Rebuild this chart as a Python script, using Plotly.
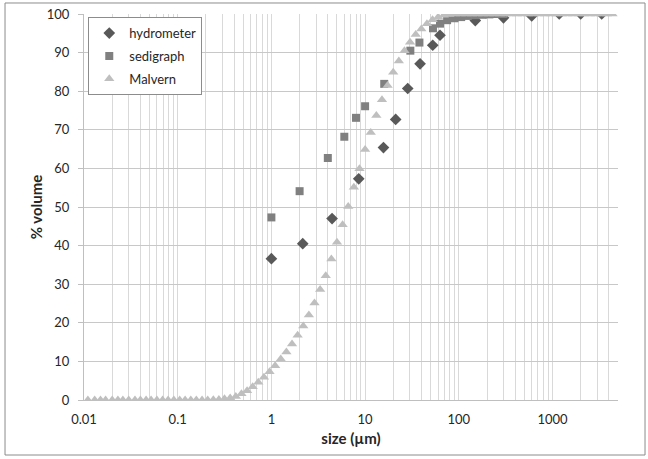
import plotly.graph_objects as go

# ---------------- data ----------------
hydro_x = [1, 2.16, 4.44, 8.55, 15.7, 21.2, 28.5, 38.6, 52.7, 63, 150, 300, 600, 1180, 2000, 3350]
hydro_y = [36.6, 40.5, 47.0, 57.3, 65.4, 72.7, 80.7, 87.1, 91.9, 94.5, 98.3, 99.0, 99.5, 100, 100, 100]

sed_x = [1, 2, 4, 6, 8, 10, 16, 30.4, 38, 53, 63, 75, 90, 106, 125, 150, 180, 212, 250, 300]
sed_y = [47.3, 54.1, 62.7, 68.2, 73.1, 76.1, 81.9, 90.5, 92.6, 96.3, 97.5, 98.4, 98.9, 99.2,
         99.5, 99.7, 99.8, 99.9, 100, 100]

malvern_x = [0.011, 0.013, 0.015, 0.017, 0.020, 0.023, 0.026, 0.030, 0.035, 0.040,
             0.046, 0.052, 0.060, 0.069, 0.079, 0.091, 0.105, 0.120, 0.138, 0.158,
             0.182, 0.209, 0.240, 0.275, 0.316, 0.363, 0.417, 0.479, 0.550, 0.631,
             0.724, 0.832, 0.955, 1.096, 1.259, 1.445, 1.660, 1.905, 2.188, 2.512,
             2.884, 3.311, 3.802, 4.365, 5.012, 5.754, 6.607, 7.586, 8.710, 10.000,
             11.482, 13.183, 15.136, 17.378, 19.953, 22.909, 26.303, 30.200, 34.674, 39.811,
             45.709, 52.481, 60.256, 69.183, 79.433, 91.201, 104.713, 120.226, 138.038, 158.489,
             181.970, 208.930, 239.883, 275.423, 316.228, 363.078, 416.869, 478.630, 549.541, 630.957,
             724.436, 831.764, 954.993, 1096.478, 1258.925, 1445.440, 1659.587, 1905.461, 2187.762, 2511.886,
             2884.032, 3311.311, 3801.894, 4365.158]
malvern_y = [0, 0, 0, 0, 0, 0, 0, 0, 0, 0,
             0, 0, 0, 0, 0, 0, 0, 0, 0, 0,
             0, 0, 0.05, 0.1, 0.3, 0.5, 0.9, 1.6, 2.4, 3.45,
             4.6, 5.9, 7.35, 8.9, 10.6, 12.45, 14.5, 16.8, 19.2, 22.0,
             25.1, 28.6, 32.2, 36.5, 40.9, 45.4, 50.1, 55.1, 59.9, 64.9,
             69.3, 73.7, 77.8, 81.5, 84.9, 87.8, 90.5, 92.7, 94.7, 96.1,
             97.5, 98.5, 99.2, 99.7, 99.9, 100, 100, 100, 100, 100,
             100, 100, 100, 100, 100, 100, 100, 100, 100, 100,
             100, 100, 100, 100, 100, 100, 100, 100, 100, 100,
             100, 100, 100, 100]

x_tickvals = [0.01, 0.1, 1, 10, 100, 1000]
x_ticktext = ["0.01", "0.1", "1", "10", "100", "1000"]
y_tickvals = [0, 10, 20, 30, 40, 50, 60, 70, 80, 90, 100]

FONT = "Lato, Liberation Sans, sans-serif"
TXT = "#262626"

fig = go.Figure()
fig.add_trace(go.Scatter(x=hydro_x, y=hydro_y, mode="markers", name="hydrometer", legendgroup="h",
                         marker=dict(symbol="diamond", size=9, color="#595959")))
fig.add_trace(go.Scatter(x=sed_x, y=sed_y, mode="markers", name="sedigraph", legendgroup="s",
                         marker=dict(symbol="square", size=8, color="#808080")))
fig.add_trace(go.Scatter(x=malvern_x, y=malvern_y, mode="markers", name="Malvern", legendgroup="m",
                         marker=dict(symbol="triangle-up", size=9, color="#BFBFBF")))

fig.update_layout(
    width=648, height=459,
    margin=dict(l=84, r=30, t=14, b=59, autoexpand=False),
    paper_bgcolor="white", plot_bgcolor="white",
    font=dict(family=FONT, size=13, color=TXT),
    showlegend=True,
    legend=dict(x=0.008, y=0.992, xanchor="left", yanchor="top",
                bgcolor="white", bordercolor="#8c8c8c", borderwidth=1,
                itemwidth=30, traceorder="grouped", tracegroupgap=3,
                font=dict(family=FONT, size=13, color=TXT)),
    xaxis=dict(type="log", range=[-2, 3.69897], automargin=False,
               tickvals=x_tickvals, ticktext=x_ticktext, ticklabelstandoff=7,
               showgrid=True, gridcolor="#D9D9D9", gridwidth=1,
               minor=dict(dtick="D1", showgrid=True, gridcolor="#D9D9D9", gridwidth=1),
               showline=True, linecolor="#BFBFBF", linewidth=1,
               zeroline=False, ticks="",
               title=dict(text="<b>size (µm)</b>", font=dict(family=FONT, size=15, color=TXT), standoff=7)),
    yaxis=dict(range=[0, 100], tickvals=y_tickvals, automargin=False,
               showgrid=True, gridcolor="#C8C8C8", gridwidth=1,
               showline=True, linecolor="#BFBFBF", linewidth=1,
               zeroline=False, ticks="outside", ticklen=5, tickcolor="#BFBFBF",
               ticklabelstandoff=6,
               title=dict(text="<b>% volume</b>", font=dict(family=FONT, size=15, color=TXT), standoff=0)),
    shapes=[dict(type="rect", xref="paper", yref="paper",
                 x0=-0.1479, x1=1.0506, y0=-0.1425, y1=1.0285,
                 line=dict(color="#8c8c8c", width=1), fillcolor="rgba(0,0,0,0)", layer="below")],
)

fig.write_html("out.html", config={"displayModeBar": False},
               post_script="document.body.style.margin='0';")
